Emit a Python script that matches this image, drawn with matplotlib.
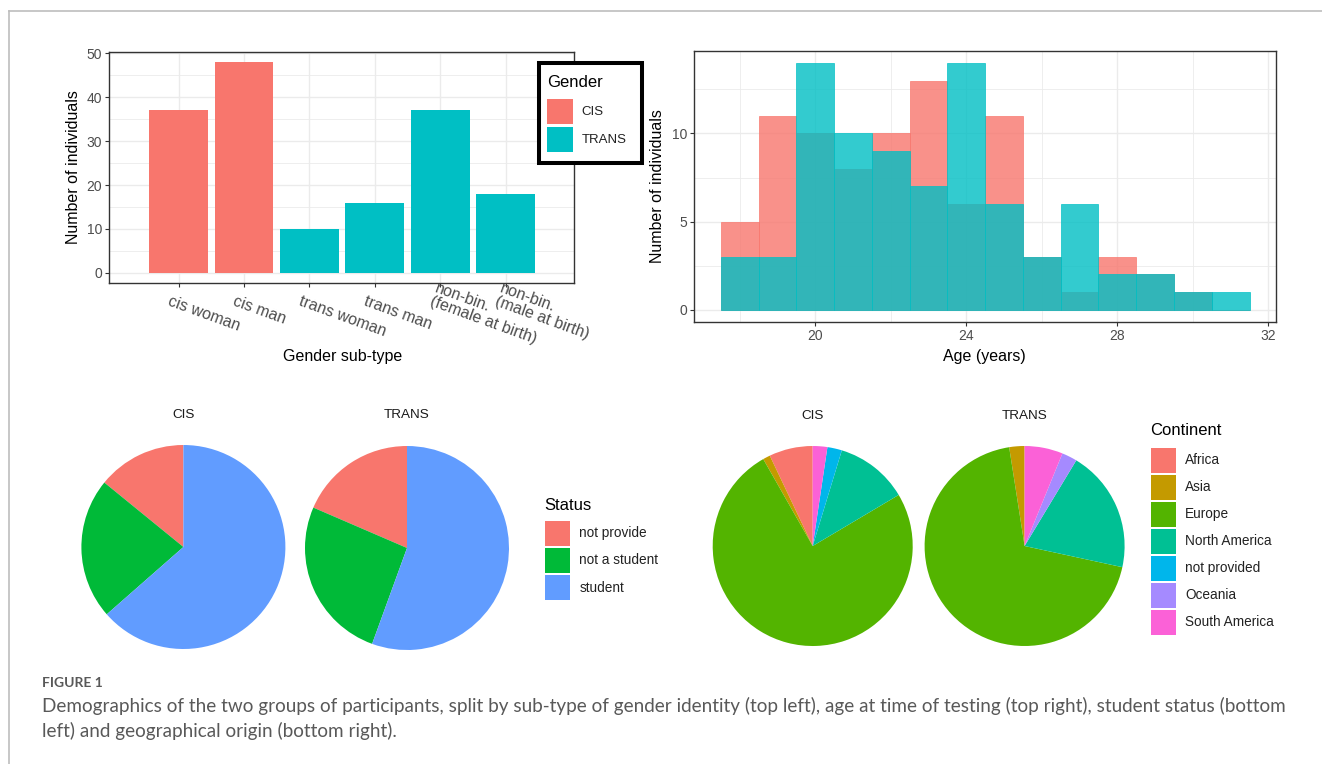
import matplotlib.pyplot as plt
import matplotlib.transforms as mtransforms
from matplotlib.patches import Rectangle
import numpy as np

plt.rcParams['font.family'] = ['Liberation Sans', 'DejaVu Sans']

W, H = 1322, 764

RED = '#F8766D'
TEAL = '#00BFC4'
GRID = '#EBEBEB'
BORDER = '#333333'
TICKTXT = '#4D4D4D'

# gender sub-types (top left)
subtypes = ['cis woman', 'cis man', 'trans woman', 'trans man',
            'non-bin.\n(female at birth)', 'non-bin.\n(male at birth)']
subtype_group = ['CIS', 'CIS', 'TRANS', 'TRANS', 'TRANS', 'TRANS']
subtype_counts = [37, 48, 10, 16, 37, 18]

# age histogram, one-year bins (top right)
ages = [18, 19, 20, 21, 22, 23, 24, 25, 26, 27, 28, 29, 30, 31]
age_cis = [5, 11, 10, 8, 10, 13, 6, 11, 3, 1, 3, 2, 1, 0]
age_trans = [3, 3, 14, 10, 9, 7, 14, 6, 3, 6, 2, 2, 1, 1]

# student status (bottom left)
status_labels = ['not provide', 'not a student', 'student']
status_colors = ['#F8766D', '#00BA38', '#619CFF']
status_cis = [12, 19, 54]
status_trans = [15, 21, 45]

# continent of origin (bottom right)
continents = ['Africa', 'Asia', 'Europe', 'North America', 'not provided',
              'Oceania', 'South America']
continent_colors = ['#F8766D', '#C49A00', '#53B400', '#00C094', '#00B6EB',
                    '#A58AFF', '#FB61D7']
continent_cis = [6, 1, 64, 10, 2, 0, 2]
continent_trans = [0, 2, 56, 16, 0, 2, 5]

group_colors = {'CIS': RED, 'TRANS': TEAL}


def box(x0, y0, x1, y1):
    """Pixel box (top-left origin) to figure fraction."""
    return [x0 / W, 1 - y1 / H, (x1 - x0) / W, (y1 - y0) / H]


def style_panel(ax):
    for s in ax.spines.values():
        s.set_color(BORDER)
        s.set_linewidth(1.0)
    ax.tick_params(which='major', length=3, width=0.8, color=BORDER,
                   labelsize=10, labelcolor=TICKTXT, pad=2)
    ax.tick_params(which='minor', length=0)
    ax.grid(which='major', color=GRID, linewidth=1.0, zorder=0)
    ax.grid(which='minor', color=GRID, linewidth=0.6, zorder=0)
    ax.set_axisbelow(True)


fig = plt.figure(figsize=(W / 100, H / 100), dpi=100)

# ---- bar chart of gender sub-types
ax1 = fig.add_axes(box(109.3, 51.7, 574.3, 283.3))
xpos = np.arange(len(subtypes))
ax1.bar(xpos, subtype_counts, width=0.9,
        color=[group_colors[g] for g in subtype_group], zorder=3)
ax1.set_xlim(-1.06, 6.05)
ax1.set_ylim(-2.4, 50.4)
ax1.set_yticks(range(0, 51, 10))
ax1.set_yticks(range(5, 50, 10), minor=True)
ax1.set_xticks(xpos)
ax1.set_xticklabels([])
style_panel(ax1)
ax1.set_ylabel('Number of individuals', fontsize=11.5, color='black')
ax1.yaxis.set_label_coords(-0.061, 0.5)
lab_tr = (mtransforms.blended_transform_factory(ax1.transData, ax1.transAxes)
          + mtransforms.ScaledTranslation(-0.127, -0.247, fig.dpi_scale_trans))
for xi, name in zip(xpos, subtypes):
    ax1.text(xi, 0, name, transform=lab_tr, rotation=-20,
             rotation_mode='anchor', ha='left', va='bottom',
             fontsize=11.5, color=TICKTXT, linespacing=0.95)
ax1.text(0.502, -0.318, 'Gender sub-type', transform=ax1.transAxes,
         ha='center', va='center', fontsize=11.5)

# ---- overlapping age histograms
ax2 = fig.add_axes(box(694.3, 50.7, 1276, 322))
ax2.bar(ages, age_cis, width=1, color=RED, alpha=0.8,
        edgecolor=RED, linewidth=0.6, zorder=3)
ax2.bar(ages, age_trans, width=1, color=TEAL, alpha=0.8,
        edgecolor=TEAL, linewidth=0.6, zorder=4)
ax2.set_xlim(16.8, 32.2)
ax2.set_ylim(-0.7, 14.7)
ax2.set_xticks([20, 24, 28, 32])
ax2.set_xticks([18, 22, 26, 30], minor=True)
ax2.set_yticks([0, 5, 10])
ax2.set_yticks([2.5, 7.5, 12.5], minor=True)
style_panel(ax2)
ax2.set_ylabel('Number of individuals', fontsize=11.5, color='black')
ax2.yaxis.set_label_coords(-0.050, 0.5)
ax2.text(0.498, -0.127, 'Age (years)', transform=ax2.transAxes,
         ha='center', va='center', fontsize=11.5)


def draw_pie(cx, cy, r, values, colors):
    ax = fig.add_axes(box(cx - r, cy - r, cx + r, cy + r))
    ax.pie(values, colors=colors, startangle=90, counterclock=True,
           radius=1, wedgeprops=dict(linewidth=0))
    ax.set_xlim(-1, 1)
    ax.set_ylim(-1, 1)
    return ax


draw_pie(183.4, 547, 102, status_cis, status_colors)
draw_pie(407, 548, 102, status_trans, status_colors)
draw_pie(812.7, 546, 100, continent_cis, continent_colors)
draw_pie(1024.6, 546, 100, continent_trans, continent_colors)

# ---- overlay in pixel coordinates: legends, facet titles, frame, caption
ov = fig.add_axes([0, 0, 1, 1], zorder=10)
ov.set_xlim(0, W)
ov.set_ylim(H, 0)
ov.axis('off')
ov.patch.set_alpha(0)

# gender legend with heavy black frame
ov.add_patch(Rectangle((539.3, 62.7), 102.7, 100.3, facecolor='white',
                       edgecolor='black', linewidth=2.9))
ov.text(546.7, 82.7, 'Gender', ha='left', va='center', fontsize=12)
for i, g in enumerate(['CIS', 'TRANS']):
    y0 = 99.3 + i * 27.5
    ov.add_patch(Rectangle((547.3, y0), 26, 25, facecolor=group_colors[g],
                           edgecolor='none'))
    ov.text(581.7, y0 + 13, g, ha='left', va='center', fontsize=9.5,
            color='#222222')


def key_legend(x, y_title, y_first, title, labels, colors, pitch=27):
    ov.text(x, y_title, title, ha='left', va='center', fontsize=12)
    for i, (lab, col) in enumerate(zip(labels, colors)):
        y0 = y_first + i * pitch
        ov.add_patch(Rectangle((x + 1, y0), 24.5, 25, facecolor=col,
                               edgecolor='none'))
        ov.text(x + 35, y0 + 12.5, lab, ha='left', va='center',
                fontsize=9.8, color='#222222')


key_legend(544.2, 505, 521, 'Status', status_labels, status_colors)
key_legend(1150, 430.7, 447.7, 'Continent', continents, continent_colors)

for cx, cy, t in [(183.4, 415, 'CIS'), (407, 415, 'TRANS'),
                  (812.7, 416, 'CIS'), (1024.6, 416, 'TRANS')]:
    ov.text(cx, cy, t, ha='center', va='center', fontsize=9.7,
            color='#1A1A1A')

# page frame
ov.plot([9.3, W], [11, 11], color='#BDBDBD', linewidth=1.2)
ov.plot([9.3, 9.3], [11, H], color='#BDBDBD', linewidth=1.2)

ov.text(42, 683, 'FIGURE 1', ha='left', va='center', fontsize=10,
        family='Lato', fontweight='bold', color='#595959')
ov.text(42, 706,
        'Demographics of the two groups of participants, split by sub-type '
        'of gender identity (top left), age at time of testing (top right), '
        'student status (bottom',
        ha='left', va='center', fontsize=13.6, family='Lato', color='#595959')
ov.text(42, 731, 'left) and geographical origin (bottom right).',
        ha='left', va='center', fontsize=13.6, family='Lato', color='#595959')

fig.savefig('out.png', dpi=100)
